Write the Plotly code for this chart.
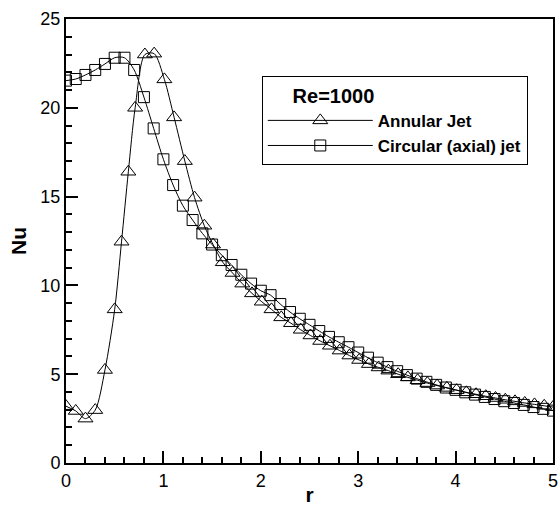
import plotly.graph_objects as go

# Annular jet (triangles)
r_annular = [0.0, 0.1, 0.2, 0.3, 0.4, 0.5, 0.57, 0.64, 0.71, 0.81, 0.905,
             1.01, 1.11, 1.22, 1.32, 1.42, 1.51, 1.61, 1.71, 1.81, 1.91,
             2.01, 2.11, 2.21, 2.31, 2.41, 2.51, 2.61, 2.71, 2.81, 2.91,
             3.01, 3.11, 3.21, 3.31, 3.41, 3.51, 3.61, 3.71, 3.81, 3.91,
             4.01, 4.11, 4.21, 4.31, 4.41, 4.51, 4.61, 4.71, 4.81, 4.91, 5.0]
nu_annular = [3.2, 2.93, 2.5, 2.98, 5.24, 8.65, 12.46, 16.4, 20.0, 23.0, 23.05,
              21.6, 19.46, 17.0, 14.94, 13.36, 12.3, 11.3, 10.7, 10.1, 9.55,
              9.08, 8.65, 8.2, 7.87, 7.5, 7.18, 6.87, 6.6, 6.33, 6.05,
              5.8, 5.57, 5.38, 5.2, 5.0, 4.82, 4.66, 4.5, 4.36, 4.23,
              4.1, 3.98, 3.87, 3.76, 3.66, 3.56, 3.47, 3.38, 3.3, 3.22, 3.15]

# Circular (axial) jet (squares)
r_circular = [0.0, 0.1, 0.2, 0.3, 0.4, 0.5, 0.6, 0.7, 0.8, 0.9,
              1.0, 1.1, 1.2, 1.3, 1.4, 1.5, 1.6, 1.7, 1.8, 1.9,
              2.0, 2.1, 2.2, 2.3, 2.4, 2.5, 2.6, 2.7, 2.8, 2.9,
              3.0, 3.1, 3.2, 3.3, 3.4, 3.5, 3.6, 3.7, 3.8, 3.9,
              4.0, 4.1, 4.2, 4.3, 4.4, 4.5, 4.6, 4.7, 4.8, 4.9, 5.0]
nu_circular = [21.53, 21.62, 21.85, 22.13, 22.47, 22.82, 22.82, 22.13, 20.6, 18.84,
               17.1, 15.65, 14.49, 13.68, 12.93, 12.3, 11.7, 11.15, 10.6, 10.1,
               9.7, 9.45, 8.95, 8.5, 8.12, 7.78, 7.43, 7.1, 6.8, 6.52,
               6.22, 5.93, 5.65, 5.4, 5.17, 4.95, 4.75, 4.57, 4.4, 4.25,
               4.12, 3.98, 3.85, 3.72, 3.6, 3.48, 3.38, 3.27, 3.15, 3.05, 2.95]

x_ticks = [0, 1, 2, 3, 4, 5]
y_ticks = [0, 5, 10, 15, 20, 25]

FONT = "Liberation Sans, Arial, Helvetica, sans-serif"

fig = go.Figure()
fig.add_trace(go.Scatter(
    x=r_annular, y=nu_annular, name="<b>Annular Jet</b>",
    mode="lines+markers",
    line=dict(color="black", width=1, shape="spline", smoothing=0.8),
    marker=dict(symbol="triangle-up-open", size=13, color="black",
                line=dict(width=1, color="black")),
))
fig.add_trace(go.Scatter(
    x=r_circular, y=nu_circular,
    name="<b>Circular (axial) jet</b>",
    mode="lines+markers",
    line=dict(color="black", width=1, shape="spline", smoothing=0.8),
    marker=dict(symbol="square-open", size=11, color="black",
                line=dict(width=1, color="black")),
))

axis_common = dict(
    showgrid=False, zeroline=False, showline=True, linecolor="black",
    linewidth=2, mirror=True, ticks="inside", ticklen=12, tickwidth=2,
    tickcolor="black", tickfont=dict(family=FONT, size=18, color="black"),
    automargin=False,
)

fig.update_xaxes(
    range=[0, 5], tickvals=x_ticks, ticktext=[str(v) for v in x_ticks],
    minor=dict(dtick=0.2, ticks="inside", ticklen=6, tickwidth=1.5, tickcolor="black"),
    title=dict(text="<b>r</b>", font=dict(family=FONT, size=21, color="black"), standoff=2),
    **axis_common,
)
fig.update_yaxes(
    range=[0, 25], tickvals=y_ticks, ticktext=[str(v) for v in y_ticks],
    minor=dict(dtick=1, ticks="inside", ticklen=6, tickwidth=1.5, tickcolor="black"),
    title=dict(text="<b>Nu</b>", font=dict(family=FONT, size=21, color="black"), standoff=8),
    **axis_common,
)

fig.update_layout(
    width=560, height=506,
    margin=dict(l=66, r=7, t=19, b=43, autoexpand=False),
    plot_bgcolor="white", paper_bgcolor="white",
    font=dict(family=FONT, color="black"),
    legend=dict(
        x=0.402, y=0.872, xanchor="left", yanchor="top",
        bgcolor="white", bordercolor="black", borderwidth=1,
        font=dict(family=FONT, size=17, color="black"),
        title=dict(text="&nbsp;&nbsp;&nbsp;&nbsp;&nbsp;<b>Re=1000</b>", side="top",
                   font=dict(family=FONT, size=20, color="black")),
        itemwidth=105, tracegroupgap=0,
    ),
)

fig.write_html(
    "out.html",
    config={"displayModeBar": False},
    post_script="document.body.style.margin='0';document.body.style.overflow='hidden';",
)
